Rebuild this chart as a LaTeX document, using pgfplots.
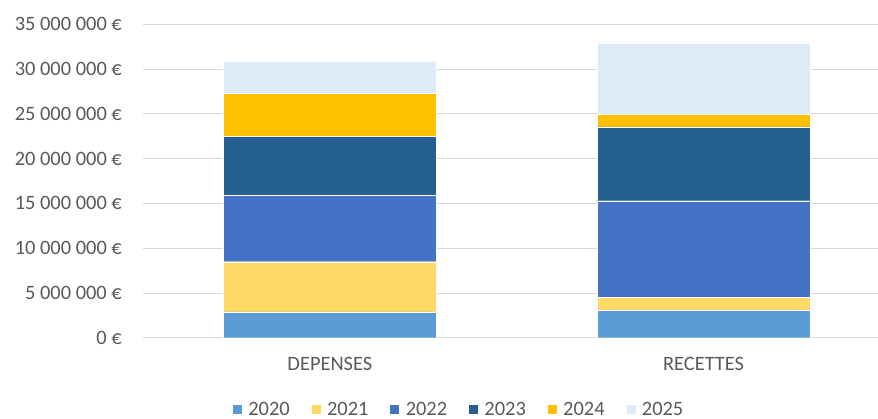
\documentclass[border=0pt]{standalone}
\usepackage{pgfplots}
\pgfplotsset{compat=1.18}
\usepackage{fontspec}
\setmainfont{Carlito}
\definecolor{c2020}{HTML}{5B9BD5}
\definecolor{c2021}{HTML}{FFD966}
\definecolor{c2022}{HTML}{4472C4}
\definecolor{c2023}{HTML}{255E91}
\definecolor{c2024}{HTML}{FFC000}
\definecolor{c2025}{HTML}{DEEBF7}
\definecolor{gridc}{HTML}{D9D9D9}
\definecolor{txt}{HTML}{595959}
\begin{document}
\begin{tikzpicture}
\clip (0,0) rectangle (878bp,419bp);
\path[use as bounding box] (0,0) rectangle (878bp,419bp);
\begin{axis}[
  at={(143bp,81.3bp)}, anchor=south west,
  scale only axis, width=735bp, height=313.6bp,
  ybar stacked, bar width=0.5695, bar shift=0pt,
  xmin=-0.5, xmax=1.4666, ymin=0, ymax=35e6,
  xtick={0,1}, xticklabels={DEPENSES,RECETTES},
  ytick={0,5e6,10e6,15e6,20e6,25e6,30e6,35e6},
  yticklabels={0 €,5 000 000 €,10 000 000 €,15 000 000 €,20 000 000 €,25 000 000 €,30 000 000 €,35 000 000 €},
  scaled y ticks=false,
  major tick length=0pt,
  axis x line*=bottom, axis y line*=left,
  y axis line style={draw=none},
  x axis line style={draw=gridc, line width=0.75bp, -},
  ymajorgrids, grid style={draw=gridc, line width=0.75bp},
  tick label style={font=\fontsize{20.5}{24}\selectfont, text=txt},
  yticklabel style={anchor=east, inner sep=0pt, xshift=-21bp},
  xticklabel style={anchor=north, inner sep=0pt, yshift=-19bp},
  legend columns=6,
  legend style={draw=none, fill=none, at={(0.4295,-0.228)}, anchor=center,
    font=\fontsize{20.5}{24}\selectfont, text=txt,
    /tikz/every even column/.append style={column sep=19bp},
    /tikz/every odd column/.append style={column sep=4bp},
    nodes={inner sep=2bp}},
  legend image code/.code={\fill[#1] (0bp,-5bp) rectangle (10bp,5bp);},
  every axis plot/.append style={draw=white, line width=0.3bp},
]
\addplot[fill=c2020] coordinates {(0,2.87e6) (1,3.06e6)};
\addplot[fill=c2021] coordinates {(0,5.61e6) (1,1.45e6)};
\addplot[fill=c2022] coordinates {(0,7.45e6) (1,10.78e6)};
\addplot[fill=c2023] coordinates {(0,6.55e6) (1,8.23e6)};
\addplot[fill=c2024] coordinates {(0,4.80e6) (1,1.41e6)};
\addplot[fill=c2025] coordinates {(0,3.64e6) (1,7.99e6)};
\legend{2020,2021,2022,2023,2024,2025}
\end{axis}
\end{tikzpicture}
\end{document}
